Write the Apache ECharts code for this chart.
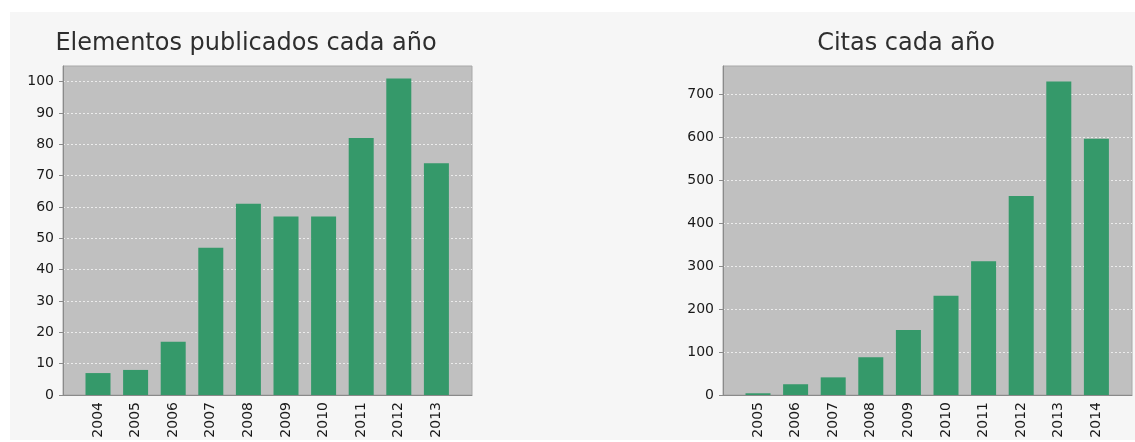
<!DOCTYPE html>
<html>
<head>
<meta charset="utf-8">
<script src="https://cdn.jsdelivr.net/npm/echarts@6/dist/echarts.min.js"></script>
<style>
  html, body { margin: 0; padding: 0; background: #fff; }
  #main { width: 1135px; height: 442px; }
</style>
</head>
<body>
<div id="main"></div>
<script>
// Elementos publicados cada año
var pubYears = ['2004', '2005', '2006', '2007', '2008', '2009', '2010', '2011', '2012', '2013'];
var pubCounts = [7, 8, 17, 47, 61, 57, 57, 82, 101, 74];
var pubAxisMax = 105;
var pubAxisStep = 10;

// Citas cada año
var citeYears = ['2005', '2006', '2007', '2008', '2009', '2010', '2011', '2012', '2013', '2014'];
var citeCounts = [4, 25, 41, 88, 151, 231, 311, 463, 729, 596];
var citeAxisMax = 765;
var citeAxisStep = 100;

var FONT = 'DejaVu Sans';
var barColor = '#35996a';

// one axis pair for the gray plot background, another inset one for the bars
function backAxes(max, step) {
  return {
    x: {
      type: 'value', min: 0, max: 1,
      axisLine: { show: true, lineStyle: { color: '#8a8a8a' } },
      axisTick: { show: false }, axisLabel: { show: false }, splitLine: { show: false }
    },
    y: {
      type: 'value', min: 0, max: max, interval: step,
      axisLine: { show: true, lineStyle: { color: '#8a8a8a' } },
      axisTick: { show: true, length: 4, lineStyle: { color: '#8a8a8a' } },
      axisLabel: { fontFamily: FONT, fontSize: 14, color: '#1a1a1a', margin: 9, showMaxLabel: false },
      splitLine: { show: true, showMaxLine: false, lineStyle: { color: 'rgba(255,255,255,0.7)', type: [2, 2] } }
    }
  };
}

function barAxes(cats, max) {
  return {
    x: {
      type: 'category', data: cats,
      axisLine: { show: false }, axisTick: { show: false },
      axisLabel: { rotate: 90, fontFamily: FONT, fontSize: 14, color: '#1a1a1a', margin: 7 }
    },
    y: { type: 'value', min: 0, max: max, show: false }
  };
}

var b0 = backAxes(pubAxisMax, pubAxisStep);
var f0 = barAxes(pubYears, pubAxisMax);
var b1 = backAxes(citeAxisMax, citeAxisStep);
var f1 = barAxes(citeYears, citeAxisMax);

var chart = echarts.init(document.getElementById('main'));
var option = {
  backgroundColor: '#fff',
  animation: false,
  graphic: {
    z: -10,
    elements: [{
      type: 'rect', left: 10, top: 12, z: -10,
      shape: { width: 1125, height: 428 },
      style: { fill: '#f6f6f6' }
    }]
  },
  title: [
    { text: 'Elementos publicados cada año', left: 241, top: 27, textAlign: 'center',
      textStyle: { fontFamily: FONT, fontSize: 24, fontWeight: 'normal', color: '#2e2e2e' } },
    { text: 'Citas cada año', left: 901, top: 27, textAlign: 'center',
      textStyle: { fontFamily: FONT, fontSize: 24, fontWeight: 'normal', color: '#2e2e2e' } }
  ],
  grid: [
    { left: 63, top: 66, width: 409, height: 329, show: true, backgroundColor: '#c0c0c0', borderColor: '#a8a8a8', borderWidth: 1 },
    { left: 79.2, top: 66, width: 376, height: 329 },
    { left: 723, top: 66, width: 409, height: 329, show: true, backgroundColor: '#c0c0c0', borderColor: '#a8a8a8', borderWidth: 1 },
    { left: 739.2, top: 66, width: 376, height: 329 }
  ],
  xAxis: [
    Object.assign({ gridIndex: 0 }, b0.x),
    Object.assign({ gridIndex: 1 }, f0.x),
    Object.assign({ gridIndex: 2 }, b1.x),
    Object.assign({ gridIndex: 3 }, f1.x)
  ],
  yAxis: [
    Object.assign({ gridIndex: 0 }, b0.y),
    Object.assign({ gridIndex: 1 }, f0.y),
    Object.assign({ gridIndex: 2 }, b1.y),
    Object.assign({ gridIndex: 3 }, f1.y)
  ],
  series: [
    { type: 'bar', xAxisIndex: 1, yAxisIndex: 1, data: pubCounts, barWidth: 25,
      itemStyle: { color: barColor } },
    { type: 'bar', xAxisIndex: 3, yAxisIndex: 3, data: citeCounts, barWidth: 25,
      itemStyle: { color: barColor } }
  ]
};
chart.setOption(option);
</script>
</body>
</html>
